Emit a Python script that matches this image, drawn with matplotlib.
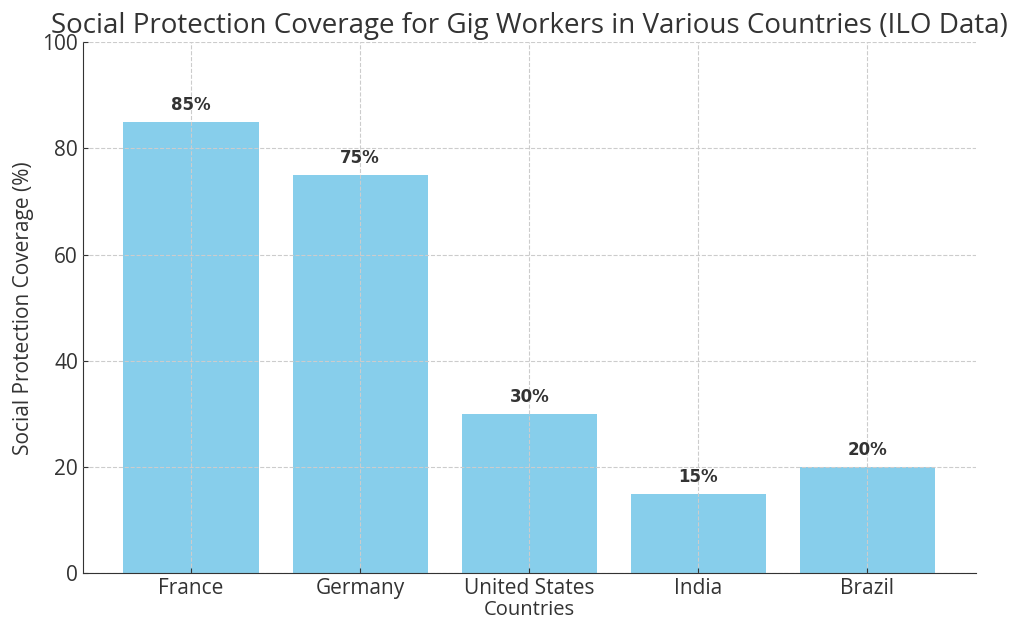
import matplotlib
matplotlib.use('Agg')
import matplotlib.pyplot as plt

countries = ['France', 'Germany', 'United States', 'India', 'Brazil']
coverage = [85, 75, 30, 15, 20]

plt.rcParams['font.family'] = ['Open Sans', 'DejaVu Sans']
txt = '#333333'

fig, ax = plt.subplots(figsize=(10.11, 6.21), dpi=100)
fig.subplots_adjust(left=0.082, right=0.965, top=0.932, bottom=0.077)

bars = ax.bar(countries, coverage, color='#87CEEB', width=0.8, zorder=1)
for b, v in zip(bars, coverage):
    ax.text(b.get_x() + b.get_width() / 2, v + 1.5, '%d%%' % v,
            ha='center', va='bottom', fontsize=12, fontweight='bold',
            color=txt, family='DejaVu Sans')

ax.set_ylim(0, 100)
ax.set_title('Social Protection Coverage for Gig Workers in Various Countries (ILO Data)',
             fontsize=20, color=txt, pad=7)
ax.set_xlabel('Countries', fontsize=14.5, color=txt, labelpad=1)
ax.set_ylabel('Social Protection Coverage (%)', fontsize=15, color=txt, labelpad=6)
ax.tick_params(direction='in', labelsize=15, colors=txt)
ax.grid(True, linestyle='--', color='#cccccc', linewidth=0.8, zorder=2)
ax.set_axisbelow(False)
for s in ['top', 'right']:
    ax.spines[s].set_visible(False)
for s in ['left', 'bottom']:
    ax.spines[s].set_color(txt)

plt.savefig('out.png', dpi=100)
